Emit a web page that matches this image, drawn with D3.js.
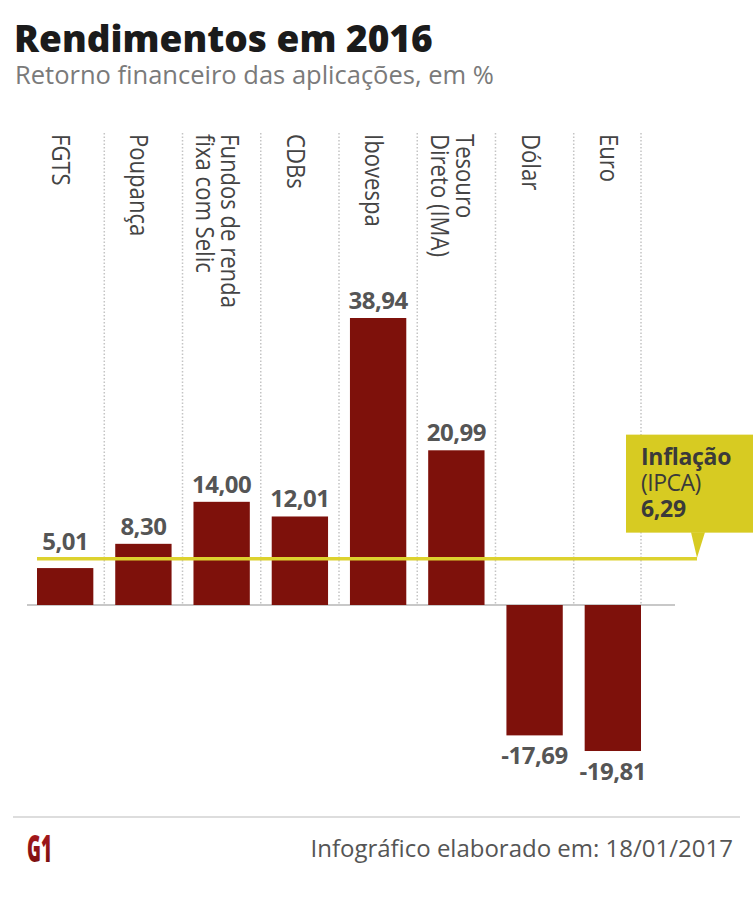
<!DOCTYPE html>
<html>
<head>
<meta charset="utf-8">
<script src="https://cdn.jsdelivr.net/npm/d3@7"></script>
<style>
  body { margin: 0; background: #fff; }
  svg { display: block; font-family: "Open Sans", sans-serif; }
</style>
</head>
<body>
<svg id="chart"></svg>
<script>
const categories = ["FGTS", "Poupança", "Fundos de renda fixa com Selic", "CDBs", "Ibovespa", "Tesouro Direto (IMA)", "Dólar", "Euro"];
const labelLines = [["FGTS"], ["Poupança"], ["Fundos de renda", "fixa com Selic"], ["CDBs"], ["Ibovespa"], ["Tesouro", "Direto (IMA)"], ["Dólar"], ["Euro"]];
const values = [5.01, 8.30, 14.00, 12.01, 38.94, 20.99, -17.69, -19.81];
const inflation = 6.29;
const inflationLabel = ["Inflação", "(IPCA)", "6,29"];

// pt-BR style: comma decimal, plain hyphen for negatives
const fmt = v => d3.format(".2f")(v).replace(".", ",").replace("\u2212", "-");

const width = 756, height = 900;
const barColor = "#7e110b";
const lineYellow = "#ddd22e";
const boxYellow = "#d7cb22";

const svg = d3.select("#chart")
    .attr("width", width)
    .attr("height", height);

// title
svg.append("text")
    .attr("x", 14)
    .attr("y", 52)
    .attr("font-size", 37)
    .attr("font-weight", 800)
    .attr("fill", "#1b1b1b")
    .text("Rendimentos em 2016");

svg.append("text")
    .attr("x", 15)
    .attr("y", 84)
    .attr("font-size", 25.5)
    .attr("fill", "#7a7a7a")
    .text("Retorno financeiro das aplicações, em %");

// scales
const x = d3.scaleBand()
    .domain(categories)
    .range([37, 641])
    .paddingInner(0.28)
    .paddingOuter(0);

const y = d3.scaleLinear()
    .domain([0, 38.94])
    .range([605, 318]);

const data = categories.map((c, i) => ({ cat: c, value: values[i], lines: labelLines[i] }));

const gap = x.step() - x.bandwidth();

// dotted separators
svg.append("g")
    .selectAll("line")
    .data(data)
    .join("line")
    .attr("x1", (d, i) => x(d.cat) + x.bandwidth() + (i < data.length - 1 ? gap / 2 : 0))
    .attr("x2", (d, i) => x(d.cat) + x.bandwidth() + (i < data.length - 1 ? gap / 2 : 0))
    .attr("y1", 133)
    .attr("y2", y(0))
    .attr("stroke", "#c4c4c4")
    .attr("stroke-width", 1.5)
    .attr("stroke-dasharray", "1.5,2");

// category labels, rotated
const labels = svg.append("g")
    .selectAll("g")
    .data(data)
    .join("g")
    .attr("transform", d => `translate(${x(d.cat) + x.bandwidth() / 2},134)`);

labels.selectAll("text")
    .data(d => d.lines.map((t, i) => ({ t, i, n: d.lines.length })))
    .join("text")
    .attr("transform", d => `translate(${-13 + (d.n - 1) * 12.5 - d.i * 25},0) rotate(90) scale(0.85,1)`)
    .attr("font-size", 26)
    .attr("fill", "#444")
    .text(d => d.t);

// baseline
svg.append("line")
    .attr("x1", 27)
    .attr("x2", 675)
    .attr("y1", y(0))
    .attr("y2", y(0))
    .attr("stroke", "#c8c8c8")
    .attr("stroke-width", 2);

// bars
svg.append("g")
    .selectAll("rect")
    .data(data)
    .join("rect")
    .attr("x", d => x(d.cat))
    .attr("width", x.bandwidth())
    .attr("y", d => y(Math.max(0, d.value)))
    .attr("height", d => Math.abs(y(d.value) - y(0)))
    .attr("fill", barColor);

// inflation line + callout
const yInf = y(inflation);
svg.append("line")
    .attr("x1", x(categories[0]))
    .attr("x2", 697)
    .attr("y1", yInf)
    .attr("y2", yInf)
    .attr("stroke", lineYellow)
    .attr("stroke-width", 3.5);

svg.append("rect")
    .attr("x", 626)
    .attr("y", yInf - 124)
    .attr("width", 127)
    .attr("height", 98)
    .attr("fill", boxYellow);

svg.append("path")
    .attr("d", `M691,${yInf - 26.5}L705,${yInf - 26.5}L697,${yInf - 1}Z`)
    .attr("fill", boxYellow);

svg.append("g")
    .selectAll("text")
    .data(inflationLabel)
    .join("text")
    .attr("x", 641)
    .attr("y", (d, i) => yInf - 94 + i * 26)
    .attr("font-size", 23)
    .attr("font-weight", (d, i) => i === 1 ? 400 : 700)
    .attr("letter-spacing", (d, i) => i === 1 ? -0.5 : -0.3)
    .attr("fill", "#3a3a3a")
    .text(d => d);

// value labels
svg.append("g")
    .selectAll("text")
    .data(data)
    .join("text")
    .attr("x", d => x(d.cat) + x.bandwidth() / 2)
    .attr("y", d => d.value >= 0
        ? Math.min(y(d.value), yInf) - 9
        : y(d.value) + 29)
    .attr("text-anchor", "middle")
    .attr("font-size", 24)
    .attr("font-weight", 700)
    .attr("letter-spacing", -0.5)
    .attr("fill", "#555")
    .text(d => fmt(d.value));

// footer
svg.append("line")
    .attr("x1", 13)
    .attr("x2", 740)
    .attr("y1", 817)
    .attr("y2", 817)
    .attr("stroke", "#dddddd")
    .attr("stroke-width", 2);

const grad = svg.append("defs").append("linearGradient")
    .attr("id", "g1grad")
    .attr("x1", 0).attr("y1", 0).attr("x2", 0).attr("y2", 1);
grad.append("stop").attr("offset", "0%").attr("stop-color", "#b81c20");
grad.append("stop").attr("offset", "100%").attr("stop-color", "#6c0b0d");

svg.append("text")
    .attr("x", 27)
    .attr("y", 862)
    .attr("font-size", 37)
    .attr("font-weight", 800)
    .attr("textLength", 25)
    .attr("lengthAdjust", "spacingAndGlyphs")
    .attr("fill", "url(#g1grad)")
    .text("G1");

svg.append("text")
    .attr("x", 733)
    .attr("y", 857)
    .attr("text-anchor", "end")
    .attr("font-size", 24)
    .attr("fill", "#555")
    .text("Infográfico elaborado em: 18/01/2017");
</script>
</body>
</html>
